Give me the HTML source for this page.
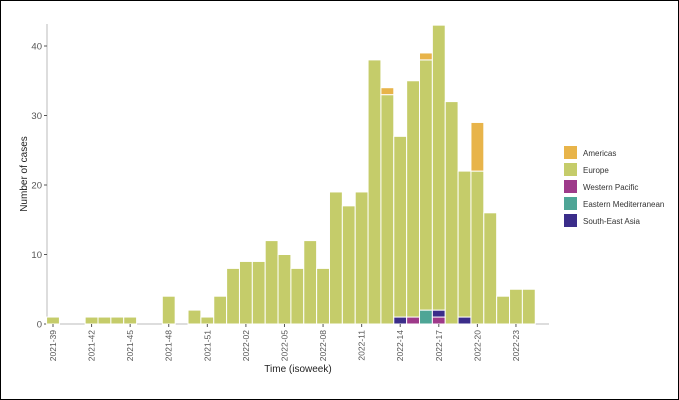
<!DOCTYPE html>
<html><head><meta charset="utf-8"><style>
body{margin:0;background:#fff}
svg{display:block;font-family:"Liberation Sans",sans-serif}
</style></head><body>
<svg id="c" width="679" height="400">
<rect x="0.5" y="0.5" width="678" height="399" fill="#fff" stroke="#000"/>
<g id="plot"></g>
</svg>
<script>
const weeks=["2021-39","2021-40","2021-41","2021-42","2021-43","2021-44","2021-45","2021-46","2021-47","2021-48","2021-49","2021-50","2021-51","2021-52","2022-01","2022-02","2022-03","2022-04","2022-05","2022-06","2022-07","2022-08","2022-09","2022-10","2022-11","2022-12","2022-13","2022-14","2022-15","2022-16","2022-17","2022-18","2022-19","2022-20","2022-21","2022-22","2022-23","2022-24"];
const southEastAsia=[0,0,0,0,0,0,0,0,0,0,0,0,0,0,0,0,0,0,0,0,0,0,0,0,0,0,0,1,0,0,1,0,1,0,0,0,0,0];
const westernPacific=[0,0,0,0,0,0,0,0,0,0,0,0,0,0,0,0,0,0,0,0,0,0,0,0,0,0,0,0,1,0,1,0,0,0,0,0,0,0];
const easternMed=[0,0,0,0,0,0,0,0,0,0,0,0,0,0,0,0,0,0,0,0,0,0,0,0,0,0,0,0,0,2,0,0,0,0,0,0,0,0];
const europe=[1,0,0,1,1,1,1,0,0,4,0,2,1,4,8,9,9,12,10,8,12,8,19,17,19,38,33,26,34,36,41,32,21,22,16,4,5,5];
const americas=[0,0,0,0,0,0,0,0,0,0,0,0,0,0,0,0,0,0,0,0,0,0,0,0,0,0,1,0,0,1,0,0,0,7,0,0,0,0];
const yTicks=[0,10,20,30,40];
const xTickLabels=["2021-39","2021-42","2021-45","2021-48","2021-51","2022-02","2022-05","2022-08","2022-11","2022-14","2022-17","2022-20","2022-23"];
const series=[["western-pacific",westernPacific,"#9e3a8a"],["south-east-asia",southEastAsia,"#3b2d8a"],["eastern-mediterranean",easternMed,"#4ea596"],["europe",europe,"#c5cc6a"],["americas",americas,"#e8b44a"]];
const NS="http://www.w3.org/2000/svg";
const g=document.getElementById('plot');
const x0=53,step=12.86,y0=324,py=6.95;
const X=i=>x0+i*step, Y=v=>y0-v*py;
function el(t,a,p){const e=document.createElementNS(NS,t);for(const k in a)e.setAttribute(k,a[k]);(p||g).appendChild(e);return e;}
const ya=el('line',{x1:47,y1:24,x2:47,y2:y0,stroke:'#bbb'});


const xa=el('line',{x1:47,y1:y0,x2:549,y2:y0,stroke:'#bbb'});


yTicks.forEach(v=>{
  el('line',{x1:44,x2:47,y1:Y(v),y2:Y(v),stroke:'#555'});
  const t=el('text',{x:42,y:Y(v)+3.5,'text-anchor':'end','font-size':'9.5',fill:'#555'});
  t.textContent=v;
  
  
});
weeks.forEach((w,i)=>{
  let acc=0;
  series.forEach(([n,arr,c])=>{
    const v=arr[i]; if(!v)return;
    const r=el('rect',{x:X(i)-step/2,y:Y(acc+v),width:step,height:v*py,fill:c,stroke:'#fff','stroke-width':1});
    
    
    acc+=v;
  });
});
xTickLabels.forEach(l=>{
  const i=weeks.indexOf(l);
  el('line',{x1:X(i),x2:X(i),y1:y0,y2:y0+3,stroke:'#555'});
  const t=el('text',{transform:`translate(${X(i)+3},${y0+6}) rotate(-90)`,'text-anchor':'end','font-size':'8.5',fill:'#555'});
  t.textContent=l;
  
  
});
const xt=el('text',{x:298,y:372,'text-anchor':'middle','font-size':'10',fill:'#222'});
xt.textContent='Time (isoweek)';


const yt=el('text',{transform:'translate(27,174) rotate(-90)','text-anchor':'middle','font-size':'10',fill:'#222'});
yt.textContent='Number of cases';


const leg=[["Americas","#e8b44a"],["Europe","#c5cc6a"],["Western Pacific","#9e3a8a"],["Eastern Mediterranean","#4ea596"],["South-East Asia","#3b2d8a"]];
leg.forEach(([n,c],k)=>{
  const r=el('rect',{x:564,y:146+k*17,width:13,height:13,fill:c});
  
  
  const t=el('text',{x:583,y:156+k*17,'font-size':'8',fill:'#333'});
  t.textContent=n;
  
  
});
</script>
</body></html>
